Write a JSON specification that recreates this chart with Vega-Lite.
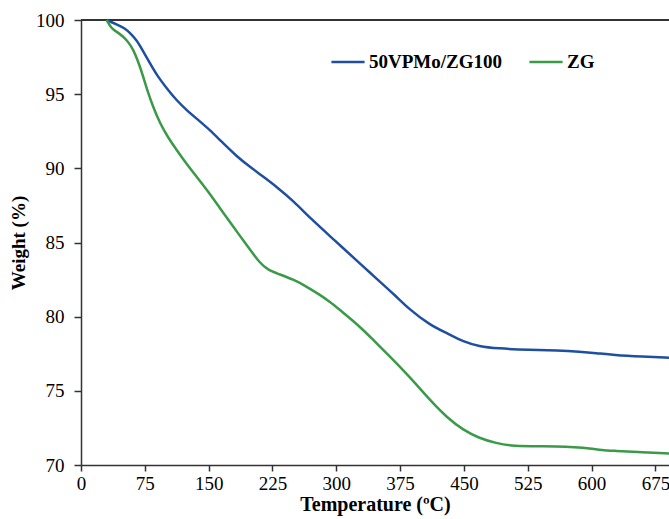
{
  "$schema": "https://vega.github.io/schema/vega-lite/v6.json",
  "width": 588,
  "height": 445,
  "autosize": "none",
  "padding": {"left": 81, "top": 20, "right": 0, "bottom": 54},
  "background": "white",
  "config": {
    "font": "Liberation Serif",
    "view": {"stroke": null},
    "axis": {
      "grid": false,
      "domainColor": "#333333",
      "domainWidth": 1.5,
      "tickColor": "#333333",
      "tickWidth": 1.5,
      "labelColor": "black",
      "titleColor": "black",
      "labelFont": "Liberation Serif",
      "titleFont": "Liberation Serif",
      "labelFontSize": 19,
      "titleFontWeight": "bold"
    }
  },
  "data": {
    "values": [
      {"s": "50VPMo/ZG100", "t": 30, "w": 100},
      {"s": "50VPMo/ZG100", "t": 34, "w": 99.9},
      {"s": "50VPMo/ZG100", "t": 42, "w": 99.7},
      {"s": "50VPMo/ZG100", "t": 51.7, "w": 99.44},
      {"s": "50VPMo/ZG100", "t": 58, "w": 99.1},
      {"s": "50VPMo/ZG100", "t": 65.4, "w": 98.65},
      {"s": "50VPMo/ZG100", "t": 73, "w": 97.9},
      {"s": "50VPMo/ZG100", "t": 81, "w": 97.08},
      {"s": "50VPMo/ZG100", "t": 90, "w": 96.2},
      {"s": "50VPMo/ZG100", "t": 100.7, "w": 95.4},
      {"s": "50VPMo/ZG100", "t": 112, "w": 94.6},
      {"s": "50VPMo/ZG100", "t": 124, "w": 93.93},
      {"s": "50VPMo/ZG100", "t": 138, "w": 93.25},
      {"s": "50VPMo/ZG100", "t": 151.6, "w": 92.58},
      {"s": "50VPMo/ZG100", "t": 163.4, "w": 91.9},
      {"s": "50VPMo/ZG100", "t": 183, "w": 90.8},
      {"s": "50VPMo/ZG100", "t": 198.6, "w": 90.1},
      {"s": "50VPMo/ZG100", "t": 214.3, "w": 89.43},
      {"s": "50VPMo/ZG100", "t": 230, "w": 88.75},
      {"s": "50VPMo/ZG100", "t": 250.7, "w": 87.75},
      {"s": "50VPMo/ZG100", "t": 270, "w": 86.6},
      {"s": "50VPMo/ZG100", "t": 297.7, "w": 85.17},
      {"s": "50VPMo/ZG100", "t": 331.8, "w": 83.37},
      {"s": "50VPMo/ZG100", "t": 344.7, "w": 82.7},
      {"s": "50VPMo/ZG100", "t": 371, "w": 81.34},
      {"s": "50VPMo/ZG100", "t": 383.8, "w": 80.6},
      {"s": "50VPMo/ZG100", "t": 410, "w": 79.43},
      {"s": "50VPMo/ZG100", "t": 430.8, "w": 78.87},
      {"s": "50VPMo/ZG100", "t": 449.4, "w": 78.31},
      {"s": "50VPMo/ZG100", "t": 468, "w": 78.0},
      {"s": "50VPMo/ZG100", "t": 488.6, "w": 77.86},
      {"s": "50VPMo/ZG100", "t": 527.8, "w": 77.75},
      {"s": "50VPMo/ZG100", "t": 560, "w": 77.72},
      {"s": "50VPMo/ZG100", "t": 586.6, "w": 77.64},
      {"s": "50VPMo/ZG100", "t": 605, "w": 77.55},
      {"s": "50VPMo/ZG100", "t": 625.7, "w": 77.41},
      {"s": "50VPMo/ZG100", "t": 660, "w": 77.3},
      {"s": "50VPMo/ZG100", "t": 691, "w": 77.23},
      {"s": "ZG", "t": 30, "w": 100},
      {"s": "ZG", "t": 34, "w": 99.6},
      {"s": "ZG", "t": 38, "w": 99.33},
      {"s": "ZG", "t": 45, "w": 99.1},
      {"s": "ZG", "t": 51.7, "w": 98.76},
      {"s": "ZG", "t": 57, "w": 98.4},
      {"s": "ZG", "t": 61.5, "w": 97.98},
      {"s": "ZG", "t": 65, "w": 97.5},
      {"s": "ZG", "t": 69.4, "w": 96.85},
      {"s": "ZG", "t": 74, "w": 96.0},
      {"s": "ZG", "t": 79.1, "w": 95.06},
      {"s": "ZG", "t": 85, "w": 94.1},
      {"s": "ZG", "t": 92.9, "w": 93.03},
      {"s": "ZG", "t": 102, "w": 92.1},
      {"s": "ZG", "t": 112.5, "w": 91.23},
      {"s": "ZG", "t": 124, "w": 90.3},
      {"s": "ZG", "t": 136, "w": 89.43},
      {"s": "ZG", "t": 150, "w": 88.4},
      {"s": "ZG", "t": 163.4, "w": 87.3},
      {"s": "ZG", "t": 179, "w": 86.06},
      {"s": "ZG", "t": 195, "w": 84.8},
      {"s": "ZG", "t": 210.4, "w": 83.59},
      {"s": "ZG", "t": 220, "w": 83.15},
      {"s": "ZG", "t": 230, "w": 82.92},
      {"s": "ZG", "t": 250, "w": 82.5},
      {"s": "ZG", "t": 265.3, "w": 82.02},
      {"s": "ZG", "t": 280, "w": 81.5},
      {"s": "ZG", "t": 292.7, "w": 81.0},
      {"s": "ZG", "t": 304.4, "w": 80.44},
      {"s": "ZG", "t": 318, "w": 79.8},
      {"s": "ZG", "t": 331.8, "w": 79.1},
      {"s": "ZG", "t": 343.6, "w": 78.42},
      {"s": "ZG", "t": 358, "w": 77.6},
      {"s": "ZG", "t": 371, "w": 76.85},
      {"s": "ZG", "t": 390, "w": 75.7},
      {"s": "ZG", "t": 410, "w": 74.38},
      {"s": "ZG", "t": 430, "w": 73.2},
      {"s": "ZG", "t": 449.4, "w": 72.35},
      {"s": "ZG", "t": 468, "w": 71.8},
      {"s": "ZG", "t": 488.6, "w": 71.46},
      {"s": "ZG", "t": 505, "w": 71.3},
      {"s": "ZG", "t": 527.8, "w": 71.27},
      {"s": "ZG", "t": 560, "w": 71.25},
      {"s": "ZG", "t": 580, "w": 71.2},
      {"s": "ZG", "t": 598.3, "w": 71.12},
      {"s": "ZG", "t": 612, "w": 71.0},
      {"s": "ZG", "t": 625.7, "w": 70.96},
      {"s": "ZG", "t": 660, "w": 70.85},
      {"s": "ZG", "t": 691, "w": 70.78}
    ]
  },
  "layer": [
    {
      "mark": {"type": "rule", "color": "#333333", "strokeWidth": 1.5},
      "encoding": {"y": {"datum": 100, "type": "quantitative", "scale": {"domain": [70, 100]}}}
    },
    {
      "mark": {"type": "line", "strokeWidth": 2.5, "interpolate": "basis"},
      "encoding": {
        "x": {
          "field": "t",
          "type": "quantitative",
          "scale": {"domain": [0, 691], "nice": false, "zero": false},
          "axis": {
            "title": "Temperature (ºC)",
            "titleFontSize": 20,
            "values": [0, 75, 150, 225, 300, 375, 450, 525, 600, 675],
            "tickSize": 6,
            "labelPadding": 3,
            "titlePadding": 1,
            "labelFlush": false,
            "labelOverlap": false
          }
        },
        "y": {
          "field": "w",
          "type": "quantitative",
          "scale": {"domain": [70, 100], "nice": false, "zero": false},
          "axis": {
            "title": "Weight (%)",
            "titleFontSize": 19,
            "values": [70, 75, 80, 85, 90, 95, 100],
            "tickSize": 7,
            "labelPadding": 10,
            "titlePadding": 7
          }
        },
        "color": {
          "field": "s",
          "type": "nominal",
          "scale": {"domain": ["50VPMo/ZG100", "ZG"], "range": ["#1f4fa0", "#3a9a48"]},
          "legend": {
            "title": null,
            "orient": "none",
            "legendX": 249,
            "legendY": 24,
            "direction": "horizontal",
            "symbolType": "stroke",
            "symbolSize": 1100,
            "symbolStrokeWidth": 2.5,
            "labelFont": "Liberation Serif",
            "labelFontSize": 19,
            "labelFontWeight": "bold",
            "labelColor": "black",
            "labelOffset": 3,
            "columnPadding": 22,
            "labelLimit": 300
          }
        }
      }
    }
  ]
}
